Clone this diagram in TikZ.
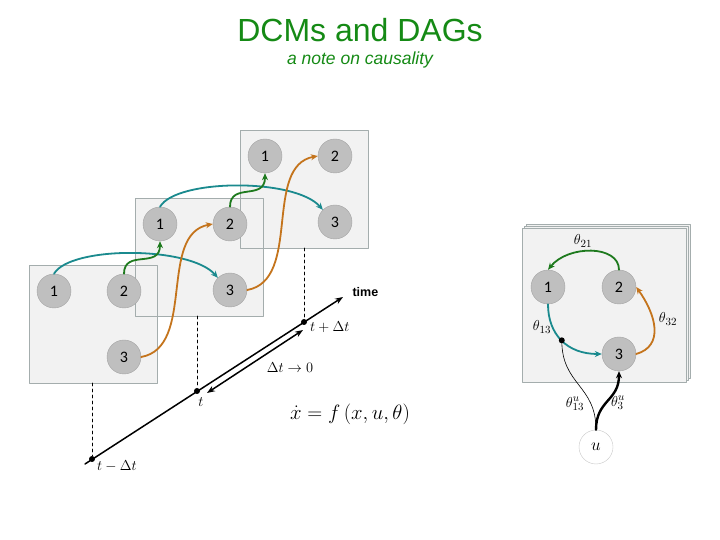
\documentclass[tikz,border=0pt]{standalone}
\usepackage{fontspec}
\setmainfont{Liberation Sans}
\newfontfamily\calibri{Carlito}
\usetikzlibrary{arrows.meta}
\definecolor{titlegreen}{HTML}{158A15}
\definecolor{linkgreen}{HTML}{1E7A1E}
\definecolor{linkteal}{HTML}{1A8A8E}
\definecolor{linkorange}{HTML}{C4741C}
\definecolor{panelfill}{HTML}{F2F2F2}
\definecolor{panelline}{HTML}{A4ADAD}
\definecolor{statefill}{HTML}{BFBFBF}
\definecolor{stateline}{HTML}{A3A3A3}
\tikzset{
  panel/.style={draw=panelline, fill=panelfill, line width=0.9pt},
  state/.style={circle, fill=statefill, draw=stateline, minimum size=34pt, inner sep=0pt, font=\calibri\fontsize{16}{16}\selectfont},
  link/.style={-{Stealth[length=7pt,width=6pt]}, line width=1.8pt},
  lab/.style={font=\fontsize{15}{15}\selectfont, inner sep=1pt},
  tick/.style={circle, fill=black, inner sep=0pt, minimum size=6pt}
}
\begin{document}
\begin{tikzpicture}[x=1pt, y=1pt, line join=round, line cap=round]
\useasboundingbox (0,0) rectangle (720,540);
% title
\node[text=titlegreen, font=\fontsize{32}{34}\selectfont] (title) at (360,510) {DCMs and DAGs};
\node[text=titlegreen, font=\itshape\fontsize{17.5}{19}\selectfont] (subtitle) at (360,480) {a note on causality};
% time slices
\foreach \x/\y in {29/157, 135/224, 240/292}
  \fill[panelfill] (\x,\y) rectangle +(128,118);
\foreach \x/\y in {29/157, 135/224, 240/292}
  \draw[panelline, line width=0.9pt] (\x,\y) rectangle +(128,118);
\foreach \f/\x/\y in {a/29/157, b/135/224, c/240/292}{
  \node[state] (\f1) at (\x+25,\y+92) {1};
  \node[state] (\f2) at (\x+95,\y+92) {2};
  \node[state] (\f3) at (\x+95,\y+26) {3};
}
\foreach \p/\q in {a/b, b/c}{
  \draw[link, linkteal] (\p1.north) .. controls +(16,28) and +(-28,32) .. (\q3.north west);
  \draw[link, linkgreen] (\p2.north) .. controls +(0,25) and +(0,-28) .. (\q1.south);
  \draw[link, linkorange] (\p3.east) .. controls +(55,10) and +(-55,-10) .. (\q2.west);
}
% time axis
\path
(85,76) coordinate (ax0)
(343,243) coordinate (ax1)
(207,147) coordinate (dA)
(303,210) coordinate (dB);
\node[tick] (tm) at (92,81) {};
\node[tick] (t0) at (197,149) {};
\node[tick] (tp) at (304,218) {};
\draw[-{Stealth[length=8pt,width=6pt]}, line width=1.5pt] (ax0) -- (ax1);
\draw[{Stealth[length=8pt,width=6pt]}-{Stealth[length=8pt,width=6pt]}, line width=1.5pt] (dA) -- (dB);
\draw[dashed, line width=0.7pt] (92,157) -- (tm);
\draw[dashed, line width=0.7pt] (197,224) -- (t0);
\draw[dashed, line width=0.7pt] (304,292) -- (tp);
\node[font=\bfseries\fontsize{12.5}{13}\selectfont, anchor=west] (time) at (349,248) {time};
\node[lab, anchor=west] (tpl) at (309,213) {$t+\Delta t$};
\node[lab] (t0l) at (201,138) {$t$};
\node[lab, anchor=west] (tml) at (96,74) {$t-\Delta t$};
\node[lab] (dtl) at (290,172) {$\Delta t\rightarrow 0$};
\node[font=\fontsize{20}{22}\selectfont, inner sep=1pt] (eq) at (350,126) {$\dot{x}=f\,(x,u,\theta)$};
% DCM panel
\foreach \d in {4,2,0}
  \draw[panel] (522+\d,158+\d) rectangle +(164,154);
\node[state] (r1) at (548,253) {1};
\node[state] (r2) at (619,253) {2};
\node[state] (r3) at (619,186) {3};
\node[circle, fill=white, draw=stateline!60, minimum size=34pt, inner sep=0pt, font=\fontsize{18}{18}\selectfont] (u) at (596,93) {$u$};
\draw[link, linkgreen] (r2.north) .. controls +(0,25) and +(20,25) .. (r1.north);
\draw[link, linkteal] (r1.south) .. controls +(0,-30) and +(-35,0) .. coordinate[pos=0.5] (mod) (r3.west);
\draw[link, linkorange] (r3.east) .. controls +(28,8) and +(20,-28) .. (r2.east);
\draw[line width=0.6pt] (u.north) .. controls +(0,45) and +(0,-45) .. (mod);
\node[tick] (modtick) at (mod) {};
\draw[-{Stealth[length=7pt,width=6pt]}, line width=2.4pt] (u.north) .. controls +(0,30) and +(0,-30) .. (r3.south);
\node[lab] (th21) at (583,299) {$\theta_{21}$};
\node[lab] (th32) at (668,221) {$\theta_{32}$};
\node[lab] (th13) at (542,213) {$\theta_{13}$};
\node[lab] (thu13) at (575,136) {$\theta_{13}^{u}$};
\node[lab] (thu3) at (618,137) {$\theta_{3}^{u}$};
\end{tikzpicture}
\end{document}
